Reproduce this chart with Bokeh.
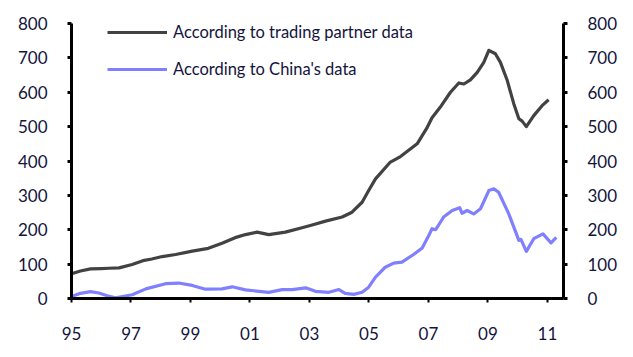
from bokeh.plotting import figure
from bokeh.models import (ColumnDataSource, LinearAxis, FixedTicker, Range1d,
                          Legend, LegendItem)
from bokeh.embed import file_html
from bokeh.resources import INLINE

# ---- data ----
partner_t = [1995.0, 1995.3, 1995.64, 1996.0, 1996.25, 1996.6, 1997.04, 1997.4, 1997.7,
             1998.05, 1998.5, 1999.06, 1999.6, 2000.06, 2000.5, 2000.85, 2001.24, 2001.63,
             2002.19, 2002.75, 2003.09, 2003.54, 2004.1, 2004.43, 2004.77, 2004.99, 2005.22,
             2005.72, 2006.06, 2006.62, 2006.96, 2007.12, 2007.4, 2007.74, 2008.02, 2008.19,
             2008.41, 2008.64, 2008.86, 2009.03, 2009.25, 2009.42, 2009.65, 2009.87, 2010.04,
             2010.15, 2010.29, 2010.54, 2010.82, 2011.04]
partner_v = [72, 80, 86, 87, 88, 89, 99, 110, 115,
             122, 128, 138, 146, 161, 177, 186, 193, 186,
             193, 206, 214, 225, 237, 251, 280, 314, 348,
             397, 413, 450, 498, 526, 557, 600, 627, 624,
             636, 658, 687, 722, 712, 687, 634, 566, 523,
             516, 500, 532, 561, 578]

china_t = [1995.0, 1995.3, 1995.64, 1995.92, 1996.2, 1996.48, 1997.04, 1997.5, 1998.16,
           1998.6, 1999.06, 1999.5, 2000.06, 2000.4, 2000.85, 2001.63, 2002.08, 2002.42,
           2002.87, 2003.2, 2003.65, 2003.99, 2004.2, 2004.49, 2004.77, 2004.99, 2005.22,
           2005.55, 2005.83, 2006.11, 2006.5, 2006.79, 2007.01, 2007.12, 2007.24, 2007.51,
           2007.8, 2008.05, 2008.13, 2008.3, 2008.52, 2008.75, 2009.03, 2009.2, 2009.36,
           2009.7, 2010.04, 2010.11, 2010.29, 2010.54, 2010.85, 2011.12, 2011.3]
china_v = [6, 15, 20, 16, 8, 2, 11, 28, 43,
           45, 38, 27, 28, 34, 25, 18, 26, 26,
           31, 21, 18, 26, 15, 12, 18, 33, 62,
           91, 103, 106, 128, 147, 183, 203, 200, 237,
           256, 264, 248, 256, 246, 261, 314, 319, 309,
           246, 169, 172, 137, 174, 188, 162, 178]

x_ticks = [1995, 1997, 1999, 2001, 2003, 2005, 2007, 2009, 2011]
x_labels = ["95", "97", "99", "01", "03", "05", "07", "09", "11"]
y_ticks = [0, 100, 200, 300, 400, 500, 600, 700, 800]

label_partner = "According to trading partner data"
label_china = "According to China's data"

FONT = "Lato"
TXT = "#14143c"

p = figure(width=633, height=357, output_backend="svg", toolbar_location=None,
           x_range=Range1d(1995, 2011.54), y_range=Range1d(0, 800),
           min_border_left=71, min_border_right=70, min_border_top=23,
           min_border_bottom=59, x_axis_location="below", y_axis_location="left")
p.outline_line_color = None
p.xgrid.visible = False
p.ygrid.visible = False
p.background_fill_color = "white"
p.border_fill_color = "white"

src_p = ColumnDataSource(dict(t=partner_t, v=partner_v))
src_c = ColumnDataSource(dict(t=china_t, v=china_v))
r1 = p.line("t", "v", source=src_p, line_color="#424242", line_width=3.2,
            line_join="round")
r2 = p.line("t", "v", source=src_c, line_color="#8080ff", line_width=3.2,
            line_join="round")

right = LinearAxis(y_range_name="default")
p.add_layout(right, "right")

for ax in [p.yaxis[0], right]:
    ax.ticker = FixedTicker(ticks=y_ticks)
    ax.axis_line_width = 3
    ax.axis_line_color = "black"
    ax.major_tick_line_width = 3
    ax.major_tick_line_color = "black"
    ax.major_tick_in = 0
    ax.major_tick_out = 4
    ax.minor_tick_line_color = None
    ax.major_label_text_font = FONT
    ax.major_label_text_font_size = "17px"
    ax.major_label_text_color = TXT
    ax.major_label_standoff = 20

xa = p.xaxis[0]
xa.ticker = FixedTicker(ticks=x_ticks)
xa.major_label_overrides = {t: l for t, l in zip(x_ticks, x_labels)}
xa.axis_line_width = 3
xa.axis_line_color = "black"
xa.major_tick_line_width = 2
xa.major_tick_line_color = "black"
xa.major_tick_in = 0
xa.major_tick_out = 4
xa.minor_tick_line_color = None
xa.major_label_text_font = FONT
xa.major_label_text_font_size = "17px"
xa.major_label_text_color = TXT
xa.major_label_standoff = 24

legend = Legend(items=[LegendItem(label=label_partner, renderers=[r1]),
                       LegendItem(label=label_china, renderers=[r2])],
                location=(36, 219), orientation="vertical",
                glyph_width=60, glyph_height=20, label_height=20,
                label_standoff=6, spacing=17, padding=0, margin=0,
                border_line_alpha=0, background_fill_alpha=0,
                label_text_font=FONT, label_text_font_size="16.5px",
                label_text_color=TXT)
p.add_layout(legend, "center")

open("out.html", "w").write(file_html(p, INLINE))
